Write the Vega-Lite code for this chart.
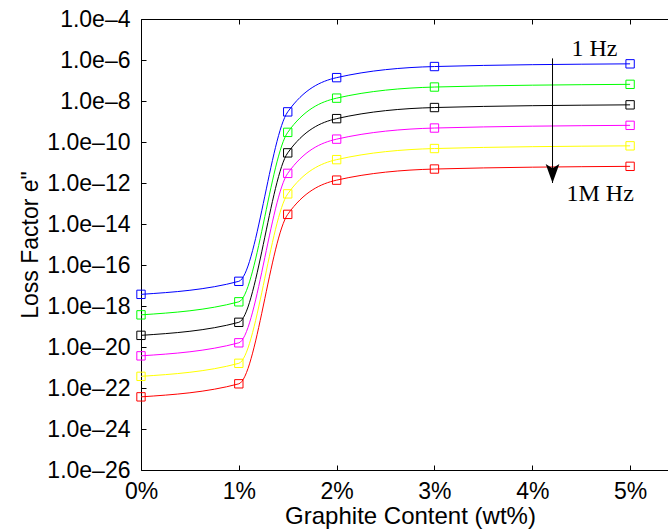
{
  "$schema": "https://vega.github.io/schema/vega-lite/v6.json",
  "width": 527,
  "height": 451,
  "autosize": {"type": "none"},
  "padding": {"left": 141, "top": 19, "right": 0, "bottom": 61},
  "background": "white",
  "config": {
    "view": {"stroke": null},
    "axis": {
      "grid": false,
      "domain": true,
      "domainColor": "black",
      "domainWidth": 1,
      "tickColor": "black",
      "tickWidth": 1,
      "tickSize": -5,
      "labelFlush": false,
      "labelFont": "Liberation Sans",
      "labelFontSize": 23,
      "labelColor": "black",
      "titleFont": "Liberation Sans",
      "titleFontWeight": "normal",
      "titleColor": "black"
    }
  },
  "resolve": {"axis": {"x": "independent"}},
  "datasets": {
    "series": [
      {"s": "f1", "x": 0, "y": 3.7e-18},
      {"s": "f1", "x": 1, "y": 1.6e-17},
      {"s": "f1", "x": 1.5, "y": 2.95e-9},
      {"s": "f1", "x": 2, "y": 1.38e-7},
      {"s": "f1", "x": 3, "y": 4.8e-7},
      {"s": "f1", "x": 5, "y": 6.5e-7},
      {"s": "f2", "x": 0, "y": 3.7e-19},
      {"s": "f2", "x": 1, "y": 1.6e-18},
      {"s": "f2", "x": 1.5, "y": 2.95e-10},
      {"s": "f2", "x": 2, "y": 1.38e-8},
      {"s": "f2", "x": 3, "y": 4.8e-8},
      {"s": "f2", "x": 5, "y": 6.5e-8},
      {"s": "f3", "x": 0, "y": 3.7e-20},
      {"s": "f3", "x": 1, "y": 1.6e-19},
      {"s": "f3", "x": 1.5, "y": 2.95e-11},
      {"s": "f3", "x": 2, "y": 1.38e-9},
      {"s": "f3", "x": 3, "y": 4.8e-9},
      {"s": "f3", "x": 5, "y": 6.5e-9},
      {"s": "f4", "x": 0, "y": 3.7e-21},
      {"s": "f4", "x": 1, "y": 1.6e-20},
      {"s": "f4", "x": 1.5, "y": 2.95e-12},
      {"s": "f4", "x": 2, "y": 1.38e-10},
      {"s": "f4", "x": 3, "y": 4.8e-10},
      {"s": "f4", "x": 5, "y": 6.5e-10},
      {"s": "f5", "x": 0, "y": 3.7e-22},
      {"s": "f5", "x": 1, "y": 1.6e-21},
      {"s": "f5", "x": 1.5, "y": 2.95e-13},
      {"s": "f5", "x": 2, "y": 1.38e-11},
      {"s": "f5", "x": 3, "y": 4.8e-11},
      {"s": "f5", "x": 5, "y": 6.5e-11},
      {"s": "f6", "x": 0, "y": 3.7e-23},
      {"s": "f6", "x": 1, "y": 1.6e-22},
      {"s": "f6", "x": 1.5, "y": 2.95e-14},
      {"s": "f6", "x": 2, "y": 1.38e-12},
      {"s": "f6", "x": 3, "y": 4.8e-12},
      {"s": "f6", "x": 5, "y": 6.5e-12}
    ],
    "arrow": [
      {"x": 4.207, "y": 1.2e-6, "y2": 1e-12}
    ],
    "labels": [
      {"x": 4.40, "y": 1.58e-6, "label": "1 Hz"},
      {"x": 4.35, "y": 1.3e-13, "label": "1M Hz"}
    ]
  },
  "layer": [
    {
      "data": {"name": "series"},
      "mark": {"type": "line", "interpolate": "monotone", "strokeWidth": 1, "clip": true},
      "encoding": {
        "x": {
          "field": "x", "type": "quantitative",
          "scale": {"domain": [0, 5.5], "range": [0, 538], "nice": false, "zero": false},
          "axis": {"orient": "bottom", "values": [0, 1, 2, 3, 4, 5], "labelExpr": "datum.value + '%'", "labelPadding": 15, "title": "Graphite Content (wt%)", "titleFontSize": 24, "titlePadding": 1}
        },
        "y": {
          "field": "y", "type": "quantitative",
          "scale": {"type": "log", "domain": [1e-26, 1e-4], "nice": false},
          "axis": {"orient": "left", "values": [1e-4, 1e-6, 1e-8, 1e-10, 1e-12, 1e-14, 1e-16, 1e-18, 1e-20, 1e-22, 1e-24, 1e-26], "labelExpr": "'1.0e–' + format(-log(datum.value)/LN10, '.0f')", "labelPadding": 16, "title": "Loss Factor e\"", "titleFontSize": 23, "titlePadding": 4}
        },
        "color": {
          "field": "s", "type": "nominal",
          "scale": {"domain": ["f1", "f2", "f3", "f4", "f5", "f6"], "range": ["#0000ff", "#00ff00", "#000000", "#ff00ff", "#ffff00", "#ff0000"]},
          "legend": null
        }
      }
    },
    {
      "data": {"name": "series"},
      "mark": {"type": "point", "shape": "square", "filled": false, "size": 70, "strokeWidth": 1, "opacity": 1},
      "encoding": {
        "x": {"field": "x", "type": "quantitative", "axis": null},
        "y": {"field": "y", "type": "quantitative"},
        "color": {"field": "s", "type": "nominal", "legend": null}
      }
    },
    {
      "data": {"name": "arrow"},
      "mark": {"type": "rule", "color": "black", "strokeWidth": 1},
      "encoding": {
        "x": {"field": "x", "type": "quantitative", "axis": {"orient": "top", "values": [0, 1, 2, 3, 4, 5], "labels": false, "title": null, "tickSize": -5, "domain": true}},
        "y": {"field": "y", "type": "quantitative"},
        "y2": {"field": "y2"}
      }
    },
    {
      "data": {"name": "arrow"},
      "mark": {"type": "point", "shape": "M0,0L-0.36,-1L0,-0.78L0.36,-1Z", "filled": true, "color": "black", "size": 1444, "opacity": 1, "strokeWidth": 0},
      "encoding": {
        "x": {"field": "x", "type": "quantitative", "axis": null},
        "y": {"field": "y2", "type": "quantitative"}
      }
    },
    {
      "data": {"name": "labels"},
      "mark": {"type": "text", "font": "Liberation Serif", "fontSize": 24, "align": "left", "baseline": "alphabetic", "color": "black"},
      "encoding": {
        "x": {"field": "x", "type": "quantitative", "axis": null},
        "y": {"field": "y", "type": "quantitative"},
        "text": {"field": "label"}
      }
    }
  ]
}
